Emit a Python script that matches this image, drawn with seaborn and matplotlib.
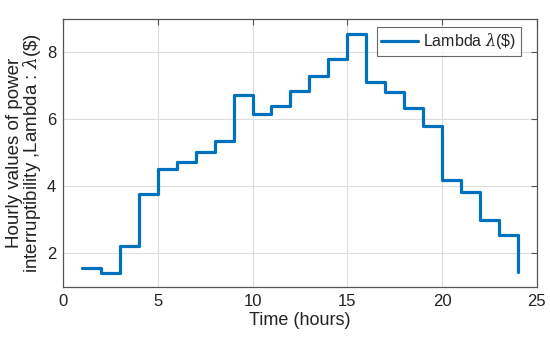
import matplotlib
matplotlib.use("Agg")
import matplotlib.pyplot as plt
import seaborn as sns
import pandas as pd

hours = list(range(1, 25))
lam = [1.57, 1.40, 2.22, 3.76, 4.52, 4.73, 5.04, 5.36, 6.73, 6.17, 6.40, 6.85,
       7.31, 7.81, 8.54, 7.13, 6.81, 6.33, 5.81, 4.20, 3.82, 3.01, 2.55, 1.44]
x_ticks = [0, 5, 10, 15, 20, 25]
y_ticks = [2, 4, 6, 8]

sns.set_style("white")
plt.rcParams['font.family'] = ['Liberation Sans', 'DejaVu Sans']
plt.rcParams['mathtext.fontset'] = 'dejavuserif'

df = pd.DataFrame({"hour": hours, "lambda": lam})

fig = plt.figure(figsize=(5.5, 3.52), dpi=100)
ax = fig.add_axes([0.1145, 0.185, 0.8615, 0.761])

sns.lineplot(data=df, x="hour", y="lambda", ax=ax, drawstyle="steps-post",
             color="#0072BD", linewidth=2.3, label=r"Lambda $\lambda$(\$)")

ax.set_xlim(0, 25)
ax.set_ylim(1, 9)
ax.set_xticks(x_ticks)
ax.set_yticks(y_ticks)
ax.grid(True, color="#dcdcdc", linewidth=0.8)
for s in ax.spines.values():
    s.set_color("#555555")
    s.set_linewidth(0.9)
ax.tick_params(direction="in", top=True, right=True, length=4, width=0.8,
               color="#555555", labelsize=12, pad=5, labelcolor="#222222")

ax.set_xlabel("Time (hours)", fontsize=13, labelpad=2, color="#222222")
ax.set_ylabel("Hourly values of power\ninterruptibility ,Lambda : $\\lambda$(\\$)",
              fontsize=13.5, linespacing=0.88, color="#222222")
ax.yaxis.set_label_coords(-0.043, 0.5)

leg = ax.legend(loc="upper right", bbox_to_anchor=(0.966, 0.972), fontsize=11.5,
                frameon=True, fancybox=False, handlelength=2.3, handletextpad=0.3,
                borderpad=0.3, borderaxespad=0.0)
leg.get_frame().set_edgecolor("#444444")
leg.get_frame().set_linewidth(0.8)

fig.savefig("out.png", dpi=100)
